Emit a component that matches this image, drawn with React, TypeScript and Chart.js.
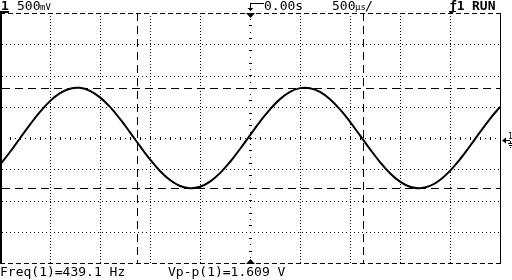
import React, { useEffect, useRef } from "react";
import { Chart, registerables } from "chart.js";

Chart.register(...registerables);

// Sample times in microseconds (500 µs/div, 10 divisions)
const timeUs = [
  -2500, -2400, -2300, -2200, -2100, -2000, -1900, -1800, -1700, -1600,
  -1500, -1400, -1300, -1200, -1100, -1000, -900, -800, -700, -600,
  -500, -400, -300, -200, -100, 0, 100, 200, 300, 400,
  500, 600, 700, 800, 900, 1000, 1100, 1200, 1300, 1400,
  1500, 1600, 1700, 1800, 1900, 2000, 2100, 2200, 2300, 2400, 2500,
];

// Channel 1 voltage (V)
const voltage = [
  -0.426, -0.224, -0.004, 0.215, 0.418, 0.59, 0.717, 0.789, 0.803, 0.755,
  0.65, 0.497, 0.305, 0.091, -0.13, -0.342, -0.527, -0.673, -0.768, -0.805,
  -0.781, -0.697, -0.562, -0.384, -0.176, 0.044, 0.262, 0.459, 0.622, 0.738,
  0.798, 0.797, 0.737, 0.62, 0.457, 0.259, 0.042, -0.178, -0.385, -0.563,
  -0.699, -0.781, -0.805, -0.767, -0.672, -0.526, -0.34, -0.128, 0.093, 0.307, 0.498,
];

const xDivTicks = [-2500, -2000, -1500, -1000, -500, 0, 500, 1000, 1500, 2000, 2500];
const yDivTicks = [-2, -1.5, -1, -0.5, 0, 0.5, 1, 1.5, 2];
const cursorTimes = [-1130, 1130];
const cursorVolts = [0.8, -0.8];

const chLabel = "1";
const vScaleNum = "500";
const vScaleUnit = "mV";
const delayText = "0.00s";
const tScaleNum = "500";
const tScaleUnit = "µs";
const tScaleSlash = "/";
const trigText = "ƒ1";
const runText = "RUN";
const freqText = "Freq(1)=439.1 Hz";
const vppText = "Vp-p(1)=1.609 V";

const FONT = "'DejaVu Sans Mono', monospace";

const scopePlugin = {
  id: "scope",
  beforeDatasetsDraw(chart: any) {
    const { ctx, chartArea, scales } = chart;
    const xs = scales.x;
    const ys = scales.y;
    const { left, right, top, bottom } = chartArea;
    ctx.save();
    ctx.fillStyle = "#000";
    // dotted grid
    xDivTicks.forEach((v) => {
      if (v === xDivTicks[0] || v === xDivTicks[xDivTicks.length - 1] || v === 0) return;
      const x = Math.round(xs.getPixelForValue(v));
      for (let y = top + 3; y < bottom; y += 3) ctx.fillRect(x, y, 1, 1);
    });
    yDivTicks.forEach((v) => {
      if (v === yDivTicks[0] || v === yDivTicks[yDivTicks.length - 1] || v === 0) return;
      const y = Math.round(ys.getPixelForValue(v));
      for (let x = left + 2; x < right; x += 4) ctx.fillRect(x, y, 1, 1);
    });
    // center horizontal axis with ticks
    const y0 = Math.round(ys.getPixelForValue(0));
    const xStep = (xs.getPixelForValue(100) - xs.getPixelForValue(0));
    for (let v = xs.min; v <= xs.max; v += 100) {
      const x = Math.round(xs.getPixelForValue(v));
      if (x <= left + 1 || x >= right) continue;
      ctx.fillRect(x, y0 - 1, 1, 3);
      ctx.fillRect(Math.round(x + xStep / 2), y0, 1, 1);
    }
    // center vertical axis with ticks
    const x0 = Math.round(xs.getPixelForValue(0));
    for (let v = ys.min; v <= ys.max + 1e-6; v += 0.1) {
      const y = Math.round(ys.getPixelForValue(v));
      if (y <= top || y >= bottom) continue;
      const k = Math.round(v * 10);
      if (k % 2 === 0) ctx.fillRect(x0 - 1, y, 3, 1);
      else ctx.fillRect(x0, y, 1, 1);
    }
    // cursors (dashed)
    ctx.strokeStyle = "#000";
    ctx.lineWidth = 1;
    ctx.setLineDash([8, 5]);
    cursorTimes.forEach((t) => {
      const x = Math.round(xs.getPixelForValue(t)) + 0.5;
      ctx.beginPath();
      ctx.moveTo(x, top);
      ctx.lineTo(x, bottom);
      ctx.stroke();
    });
    cursorVolts.forEach((v) => {
      const y = Math.round(ys.getPixelForValue(v)) + 0.5;
      ctx.beginPath();
      ctx.moveTo(left + 2, y);
      ctx.lineTo(right, y);
      ctx.stroke();
    });
    ctx.restore();
  },
  afterDraw(chart: any) {
    const { ctx, chartArea, scales } = chart;
    const xs = scales.x;
    const ys = scales.y;
    const { left, right, top, bottom } = chartArea;
    ctx.save();
    ctx.fillStyle = "#000";
    ctx.strokeStyle = "#000";
    // borders
    ctx.lineWidth = 1;
    ctx.setLineDash([5, 3]);
    ctx.beginPath();
    ctx.moveTo(left, top + 0.5);
    ctx.lineTo(right, top + 0.5);
    ctx.moveTo(left, bottom + 0.5);
    ctx.lineTo(right, bottom + 0.5);
    ctx.stroke();
    ctx.setLineDash([]);
    ctx.fillRect(left, top, 2, bottom - top + 1);
    ctx.fillRect(right, top, 1, bottom - top + 1);

    const x0 = Math.round(xs.getPixelForValue(0));
    const y0 = Math.round(ys.getPixelForValue(0));
    // trigger position markers (triangles)
    ctx.beginPath();
    ctx.moveTo(x0 - 4, top);
    ctx.lineTo(x0 + 5, top);
    ctx.lineTo(x0 + 0.5, top + 5);
    ctx.closePath();
    ctx.fill();
    ctx.beginPath();
    ctx.moveTo(x0 - 4, bottom + 1);
    ctx.lineTo(x0 + 5, bottom + 1);
    ctx.lineTo(x0 + 0.5, bottom - 4);
    ctx.closePath();
    ctx.fill();

    // delay indicator arrow
    ctx.fillRect(x0, 3, 14, 1);
    ctx.fillRect(x0, 3, 1, 6);
    ctx.beginPath();
    ctx.moveTo(x0 - 2.5, 8);
    ctx.lineTo(x0 + 3.5, 8);
    ctx.lineTo(x0 + 0.5, 11);
    ctx.closePath();
    ctx.fill();

    // ground / channel marker at right
    const ax = right + 2;
    ctx.beginPath();
    ctx.moveTo(ax, y0 + 2.5);
    ctx.lineTo(ax + 4, y0 - 0.5);
    ctx.lineTo(ax + 4, y0 + 5.5);
    ctx.closePath();
    ctx.fill();
    ctx.fillRect(ax + 3, y0 + 2, 5, 1);
    ctx.font = `8px ${FONT}`;
    ctx.textBaseline = "alphabetic";
    ctx.fillText("1", ax + 6, y0 + 1);
    ctx.fillRect(ax + 6, y0 + 5, 5, 1);
    ctx.fillRect(ax + 7, y0 + 7, 3, 1);
    ctx.fillRect(ax + 8, y0 + 9, 1, 1);
    ctx.fillRect(ax + 8, y0 + 3, 1, 2);

    // header texts
    ctx.textAlign = "left";
    ctx.font = `bold 13px ${FONT}`;
    ctx.fillText(chLabel, 1, 10);
    ctx.fillRect(0, 11, 9, 2);
    ctx.font = `13px ${FONT}`;
    ctx.fillText(vScaleNum, 17, 10);
    ctx.font = `9px ${FONT}`;
    ctx.fillText(vScaleUnit, 40, 10);
    ctx.font = `13px ${FONT}`;
    ctx.fillText(delayText, 264, 10);
    ctx.fillText(tScaleNum, 332, 10);
    ctx.font = `9px ${FONT}`;
    ctx.fillText(tScaleUnit, 355, 10);
    ctx.font = `13px ${FONT}`;
    ctx.fillText(tScaleSlash, 365, 10);
    ctx.font = `bold 13px ${FONT}`;
    ctx.fillText(trigText, 449, 10);
    ctx.fillRect(449, 11, 7, 1);
    ctx.fillText(runText, 472, 10);

    // footer texts
    ctx.font = `13px ${FONT}`;
    ctx.fillText(freqText, 0, 276);
    ctx.fillText(vppText, 168, 276);
    ctx.restore();
  },
};

export default function App() {
  const canvasRef = useRef<HTMLCanvasElement | null>(null);

  useEffect(() => {
    const canvas = canvasRef.current;
    if (!canvas) return;
    const chart = new Chart(canvas, {
      type: "line",
      data: {
        datasets: [
          {
            data: timeUs.map((t, i) => ({ x: t, y: voltage[i] })),
            borderColor: "#000",
            borderWidth: 2,
            pointRadius: 0,
            tension: 0.4,
            fill: false,
          },
        ],
      },
      options: {
        responsive: false,
        animation: false,
        maintainAspectRatio: false,
        devicePixelRatio: 1,
        layout: { padding: { left: 0, right: 12, top: 13, bottom: 17 } },
        scales: {
          x: { type: "linear", min: -2500, max: 2500, display: false },
          y: { type: "linear", min: -2, max: 2, display: false },
        },
        plugins: {
          legend: { display: false },
          tooltip: { enabled: false },
        },
        events: [],
      },
      plugins: [scopePlugin],
    });
    return () => chart.destroy();
  }, []);

  return (
    <div
      style={{
        position: "fixed",
        left: 0,
        top: 0,
        width: 512,
        height: 280,
        background: "#fff",
      }}
    >
      <canvas ref={canvasRef} width={512} height={280} style={{ display: "block" }} />
    </div>
  );
}
